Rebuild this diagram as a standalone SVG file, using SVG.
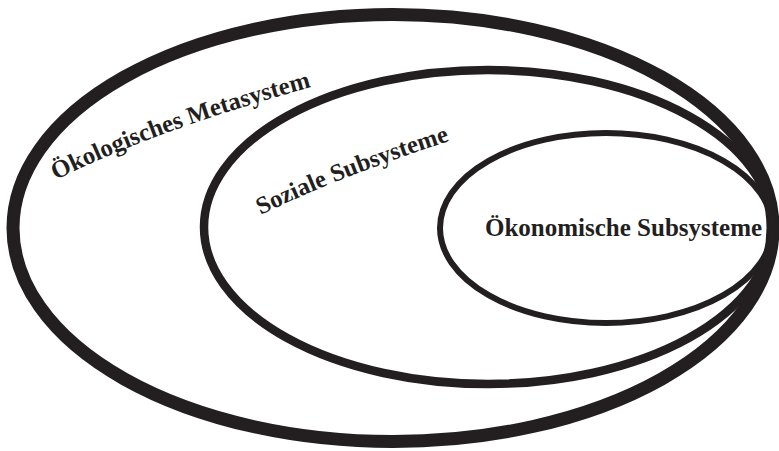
<svg xmlns="http://www.w3.org/2000/svg" width="779" height="451" viewBox="0 0 779 451">
<style>
.ring{fill:none;stroke:#231f20}
.lbl{font-family:"Liberation Serif","DejaVu Serif",serif;font-weight:bold;fill:#231f20}
</style>
<defs>
<path id="p-oeko" d="M56,180 Q168,124 345,78"/>
<path id="p-soz" d="M261,215 Q350,171 485,130"/>
</defs>
<rect width="779" height="451" fill="#ffffff"/>
<g id="oekologisches-metasystem">
<ellipse class="ring" cx="393" cy="228" rx="380" ry="213.5" stroke-width="13"/>
<text class="lbl" font-size="24.8"><textPath href="#p-oeko">Ökologisches Metasystem</textPath></text>
</g>
<g id="soziale-subsysteme">
<ellipse class="ring" cx="488" cy="227" rx="284" ry="157" stroke-width="8.5"/>
<text class="lbl" font-size="24.6"><textPath href="#p-soz">Soziale Subsysteme</textPath></text>
</g>
<g id="oekonomische-subsysteme">
<ellipse class="ring" cx="606" cy="228" rx="166" ry="95" stroke-width="6"/>
<text class="lbl" x="485" y="236" font-size="25">Ökonomische Subsysteme</text>
</g>
<g id="connectors"/>
</svg>
